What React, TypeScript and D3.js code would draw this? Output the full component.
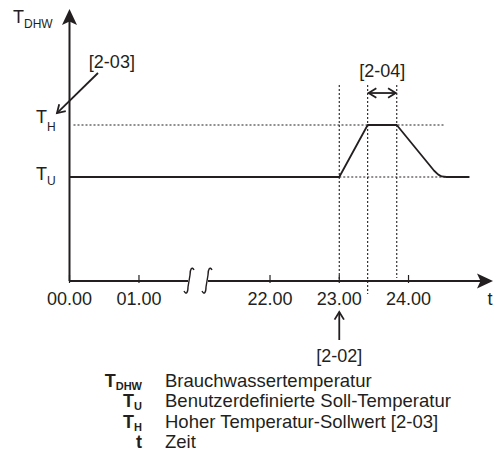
import React from "react";
import * as d3 from "d3";

// ---- data ----
const tickHours = [0, 1, 22, 23, 24];
const tickLabels = ["00.00", "01.00", "22.00", "23.00", "24.00"];
// temperature profile (hours, relative temperature)
const profileHours = [0, 23, 23.41, 23.83, 24.37, 24.43, 24.48, 24.55, 24.88];
const profileTemp = [40, 40, 60, 60, 42.4, 40.9, 40.2, 40, 40];
const TU = 40;
const TH = 60;
const breakHours = [1.72, 21.09];
const boostStart = 23;
const boostHigh = [23.41, 23.83];
const boostEnd = 24.53;
const legendSymbols = ["T", "T", "T", "t"];
const legendSubs = ["DHW", "U", "H", ""];
const legendTexts = [
  "Brauchwassertemperatur",
  "Benutzerdefinierte Soll-Temperatur",
  "Hoher Temperatur-Sollwert [2-03]",
  "Zeit",
];

const W = 494;
const H = 457;
const INK = "#231f20";
const FONT = "'Liberation Sans', Arial, Helvetica, sans-serif";

const x = d3
  .scaleLinear()
  .domain([0, breakHours[0], breakHours[1], 25.22])
  .range([69.5, 189, 207, 493]);
const y = d3.scaleLinear().domain([0, 100]).range([281, 21]);

function upArrowHead(tx: number, ty: number) {
  return `M${tx},${ty} L${tx - 7.5},${ty + 16} L${tx},${ty + 12.5} L${tx + 7.5},${ty + 16} Z`;
}
function rightArrowHead(tx: number, ty: number) {
  return `M${tx},${ty} L${tx - 16},${ty - 7.5} L${tx - 12.5},${ty} L${tx - 16},${ty + 7.5} Z`;
}
function sBreak(cx: number, cy: number) {
  return `M${cx - 5},${cy + 10} C${cx - 3},${cy + 14} ${cx - 1},${cy + 12} ${cx - 1},${cy + 6} L${cx + 1},${cy - 6} C${cx + 1},${cy - 12} ${cx + 3},${cy - 15} ${cx + 5},${cy - 11}`;
}
function vHead(tx: number, ty: number, angle: number, len = 9, spread = 0.55) {
  const a1 = angle + Math.PI - spread;
  const a2 = angle + Math.PI + spread;
  return `M${tx + len * Math.cos(a1)},${ty + len * Math.sin(a1)} L${tx},${ty} L${tx + len * Math.cos(a2)},${ty + len * Math.sin(a2)}`;
}

export default function App() {
  const y0 = y(0);
  const line = d3
    .line<number>()
    .x((_, i) => x(profileHours[i]))
    .y((d) => y(d))
    .curve(d3.curveLinear);
  const profilePath = line(profileTemp) || "";

  const dot = { stroke: INK, strokeWidth: 1.1, strokeDasharray: "2,2", fill: "none" };

  const a03 = { x1: x(0.41), y1: y(80), x2: x(-0.18), y2: y(64.6) };
  const ang03 = Math.atan2(a03.y2 - a03.y1, a03.x2 - a03.x1);

  const arrowY04 = y(72.3);
  const a02 = { x: x(boostStart), y1: y(-22.7), y2: y(-11.9) };

  return (
    <svg width={W} height={H} style={{ position: "absolute", left: 0, top: 0 }} fontFamily={FONT}>
      <rect width={W} height={H} fill="#fff" />
      {/* dotted helper lines */}
      <line x1={x(0) + 4} x2={x(boostEnd)} y1={y(TH)} y2={y(TH)} {...dot} />
      <line x1={x(boostStart)} x2={x(boostEnd)} y1={y(TU)} y2={y(TU)} {...dot} />
      <line x1={x(boostStart)} x2={x(boostStart)} y1={y(75.4)} y2={y(0)} {...dot} />
      <line x1={x(boostHigh[0])} x2={x(boostHigh[0])} y1={y(75.4)} y2={y(-5)} {...dot} />
      <line x1={x(boostHigh[1])} x2={x(boostHigh[1])} y1={y(75.4)} y2={y(1.2)} {...dot} />

      {/* profile */}
      <path d={profilePath} fill="none" stroke={INK} strokeWidth={1.8} strokeLinejoin="round" />

      {/* y axis */}
      <line x1={x(0)} x2={x(0)} y1={y0} y2={y(104) + 6} stroke={INK} strokeWidth={2} />
      <path d={upArrowHead(x(0), y(104.6))} fill={INK} />

      {/* x axis */}
      <line x1={x(0)} x2={x(breakHours[0]) - 1} y1={y0} y2={y0} stroke={INK} strokeWidth={2} />
      <line x1={x(breakHours[1]) + 1} x2={x(25.22) - 8} y1={y0} y2={y0} stroke={INK} strokeWidth={2} />
      <path d={rightArrowHead(x(25.22), y0)} fill={INK} />
      <path d={sBreak(x(breakHours[0]), y0)} fill="none" stroke={INK} strokeWidth={1.4} />
      <path d={sBreak(x(breakHours[1]), y0)} fill="none" stroke={INK} strokeWidth={1.4} />
      {tickHours.map((h, i) => (
        <g key={i}>
          <line x1={x(h)} x2={x(h)} y1={y0 - 6} y2={y0 + 2} stroke={INK} strokeWidth={1.2} />
          <text x={x(h)} y={305} textAnchor="middle" fontSize={18} fill={INK}>
            {tickLabels[i]}
          </text>
        </g>
      ))}
      <text x={490} y={305} textAnchor="middle" fontSize={18} fill={INK}>t</text>

      {/* axis labels */}
      <text x={13} y={23} fontSize={18} fill={INK}>
        T<tspan fontSize={12} dy={5}>DHW</tspan>
      </text>
      <text x={36} y={y(TH) - 2} fontSize={18} fill={INK}>
        T<tspan fontSize={12} dy={8}>H</tspan>
      </text>
      <text x={36} y={y(TU) + 3} fontSize={18} fill={INK}>
        T<tspan fontSize={12} dy={5}>U</tspan>
      </text>

      {/* [2-03] */}
      <text x={x(0.61)} y={y(82)} textAnchor="middle" fontSize={18} fill={INK}>[2-03]</text>
      <line x1={a03.x1} y1={a03.y1} x2={a03.x2} y2={a03.y2} stroke={INK} strokeWidth={1.8} />
      <path d={vHead(a03.x2, a03.y2, ang03)} fill="none" stroke={INK} strokeWidth={1.8} />

      {/* [2-04] */}
      <text x={x((boostHigh[0] + boostHigh[1]) / 2)} y={y(78.5)} textAnchor="middle" fontSize={18} fill={INK}>[2-04]</text>
      <line x1={x(boostHigh[0]) + 1} x2={x(boostHigh[1]) - 1} y1={arrowY04} y2={arrowY04} stroke={INK} strokeWidth={1.8} />
      <path d={vHead(x(boostHigh[0]) + 1, arrowY04, Math.PI)} fill="none" stroke={INK} strokeWidth={1.8} />
      <path d={vHead(x(boostHigh[1]) - 1, arrowY04, 0)} fill="none" stroke={INK} strokeWidth={1.8} />

      {/* [2-02] */}
      <line x1={a02.x} x2={a02.x} y1={a02.y1} y2={a02.y2} stroke={INK} strokeWidth={1.8} />
      <path d={vHead(a02.x, a02.y2, -Math.PI / 2)} fill="none" stroke={INK} strokeWidth={1.8} />
      <text x={a02.x} y={362} textAnchor="middle" fontSize={18} fill={INK}>[2-02]</text>

      {/* legend */}
      {legendTexts.map((t, i) => {
        const by = 387 + i * 20.3;
        return (
          <g key={i}>
            <text x={142} y={by} textAnchor="end" fontSize={18} fontWeight="bold" fill={INK}>
              {legendSymbols[i]}
              {legendSubs[i] ? (
                <tspan fontSize={11} dy={3}>{legendSubs[i]}</tspan>
              ) : null}
            </text>
            <text x={165} y={by} fontSize={18.5} fill={INK}>{t}</text>
          </g>
        );
      })}
    </svg>
  );
}
